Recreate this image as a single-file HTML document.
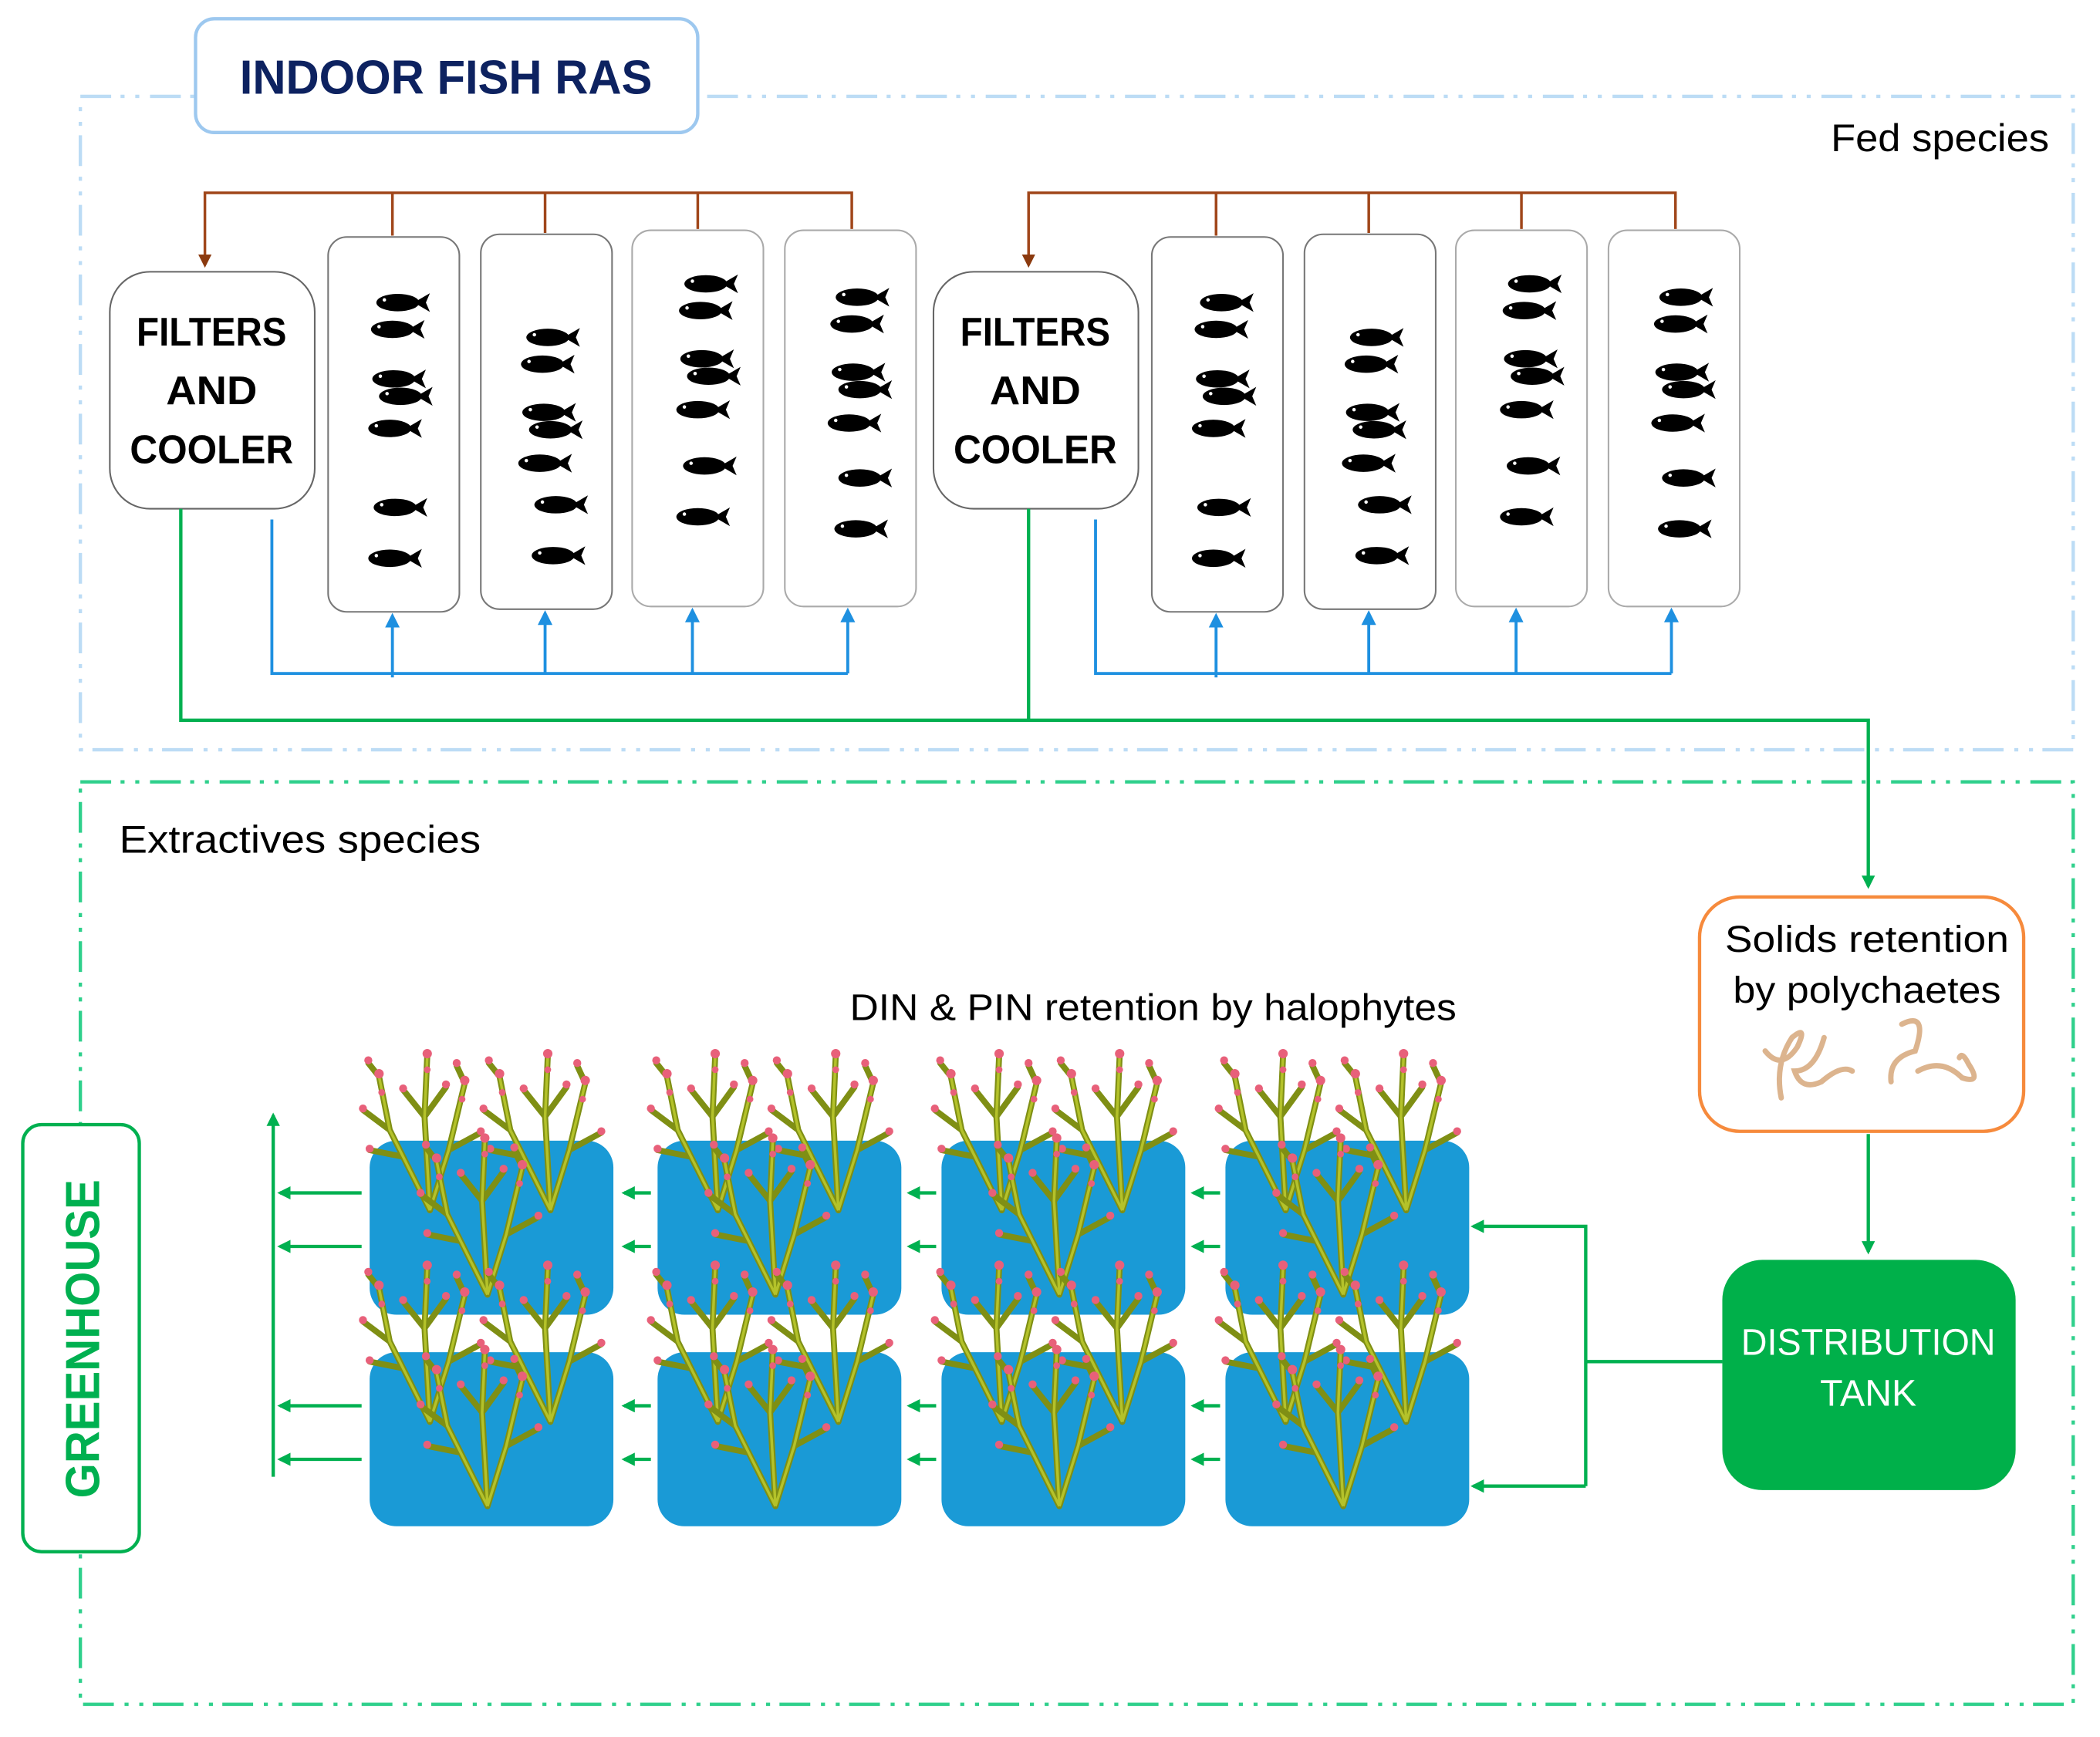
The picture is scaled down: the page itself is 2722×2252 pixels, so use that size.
<!DOCTYPE html>
<html><head><meta charset="utf-8"><style>
html,body{margin:0;padding:0;background:#fff;}
svg{display:block;}
text{font-family:"Liberation Sans",sans-serif;}
</style></head><body>
<svg width="2722" height="2252" viewBox="0 0 1568 1297.4" preserveAspectRatio="none" xmlns="http://www.w3.org/2000/svg">
<defs>
<g id="fish"><ellipse cx="0" cy="0" rx="16" ry="6.5" fill="#000"/><path d="M12,0 L24,-7 L21,0 L24,7 Z" fill="#000"/><circle cx="-10" cy="-2" r="1.3" fill="#fff"/></g>
<marker id="ab" viewBox="0 0 10 10" refX="8" refY="5" markerWidth="5" markerHeight="5" orient="auto"><path d="M0,0 L10,5 L0,10 Z" fill="#8b3a0f"/></marker>
<marker id="abl" viewBox="0 0 10 10" refX="8" refY="5" markerWidth="5" markerHeight="5" orient="auto"><path d="M0,0 L10,5 L0,10 Z" fill="#1e90e0"/></marker>
<marker id="ag" viewBox="0 0 10 10" refX="8" refY="5" markerWidth="4" markerHeight="4" orient="auto"><path d="M0,0 L10,5 L0,10 Z" fill="#00b050"/></marker>
<g id="tree">
 <g stroke="#7f8f14" stroke-width="4.5" fill="none" stroke-linecap="round">
  <path d="M0,0 L-30,-60 L-38,-100 M0,0 L-4,-70 L-2,-115 M0,0 L14,-45 L26,-95 M-20,-40 L-45,-45 M-30,-60 L-50,-75 M-4,-70 L-20,-90 M-4,-70 L12,-92 M14,-45 L38,-58 M26,-95 L20,-108 M-38,-100 L-46,-110"/>
 </g>
 <g stroke="#b4c22a" stroke-width="2" fill="none">
  <path d="M0,0 L-30,-60 L-38,-100 M0,0 L-4,-70 L-2,-115 M0,0 L14,-45 L26,-95"/>
 </g>
 <g fill="#e8607a">
  <circle cx="-38" cy="-102" r="3.5"/><circle cx="-2" cy="-117" r="3.5"/><circle cx="26" cy="-97" r="3.5"/><circle cx="-45" cy="-46" r="3"/><circle cx="-50" cy="-76" r="3"/><circle cx="-20" cy="-91" r="3"/><circle cx="12" cy="-94" r="3"/><circle cx="38" cy="-59" r="3"/><circle cx="20" cy="-110" r="3"/><circle cx="-46" cy="-112" r="3"/><circle cx="-2" cy="-105" r="2.5"/><circle cx="-36" cy="-88" r="2.5"/><circle cx="24" cy="-83" r="2.5"/>
 </g>
</g>
<g id="tankp">
 <rect x="0" y="0" width="182" height="130" rx="20" fill="#1a9ad6"/>
 <use href="#tree" x="45" y="52"/>
 <use href="#tree" x="135" y="52"/>
 <use href="#tree" x="88" y="115"/>
</g>
<g id="group">
 <g stroke="#a0461a" stroke-width="2" fill="none">
  <path d="M636,171 L636,144 L153,144 L153,198" marker-end="url(#ab)"/>
  <path d="M293,144 L293,176 M407,144 L407,174 M521,144 L521,171"/>
 </g>
 <rect x="82" y="203" width="153" height="177" rx="30" fill="#fff" stroke="#666" stroke-width="1.2"/>
 <text x="158" y="258" font-size="30" font-weight="bold" text-anchor="middle" textLength="112" lengthAdjust="spacingAndGlyphs">FILTERS</text>
 <text x="158" y="302" font-size="30" font-weight="bold" text-anchor="middle" textLength="68" lengthAdjust="spacingAndGlyphs">AND</text>
 <text x="158" y="346" font-size="30" font-weight="bold" text-anchor="middle" textLength="122" lengthAdjust="spacingAndGlyphs">COOLER</text>
 <g fill="#fff" stroke="#777" stroke-width="1.2">
  <rect x="245" y="177" width="98" height="280" rx="14"/>
  <rect x="359" y="175" width="98" height="280" rx="14"/>
  <rect x="472" y="172" width="98" height="281" rx="14" stroke="#aaa"/>
  <rect x="586" y="172" width="98" height="281" rx="14" stroke="#aaa"/>
 </g>
 <use href="#fish" x="297" y="226"/><use href="#fish" x="293" y="246"/><use href="#fish" x="294" y="283"/><use href="#fish" x="299" y="296"/><use href="#fish" x="291" y="320"/><use href="#fish" x="295" y="379"/><use href="#fish" x="291" y="417"/>
 <use href="#fish" x="409" y="252"/><use href="#fish" x="405" y="272"/><use href="#fish" x="406" y="308"/><use href="#fish" x="411" y="321"/><use href="#fish" x="403" y="346"/><use href="#fish" x="415" y="377"/><use href="#fish" x="413" y="415"/>
 <use href="#fish" x="527" y="212"/><use href="#fish" x="523" y="232"/><use href="#fish" x="524" y="268"/><use href="#fish" x="529" y="281"/><use href="#fish" x="521" y="306"/><use href="#fish" x="526" y="348"/><use href="#fish" x="521" y="386"/>
 <use href="#fish" x="640" y="222"/><use href="#fish" x="636" y="242"/><use href="#fish" x="637" y="278"/><use href="#fish" x="642" y="291"/><use href="#fish" x="634" y="316"/><use href="#fish" x="642" y="357"/><use href="#fish" x="639" y="395"/>
 <g stroke="#1e90e0" stroke-width="2.2" fill="none">
  <path d="M203,388 L203,503 L633,503"/>
  <path d="M293,506 L293,460" marker-end="url(#abl)"/>
  <path d="M407,503 L407,458" marker-end="url(#abl)"/>
  <path d="M517,503 L517,456" marker-end="url(#abl)"/>
  <path d="M633,503 L633,456" marker-end="url(#abl)"/>
 </g>
</g>
</defs>

<rect x="60" y="72" width="1488" height="488" fill="none" stroke="#bcdcf5" stroke-width="2.5" stroke-dasharray="23,7,3,8,3,8"/>
<rect x="146" y="14" width="375" height="85" rx="14" fill="#fff" stroke="#9dc8ef" stroke-width="2.5"/>
<text x="333" y="70" font-size="36" font-weight="bold" fill="#0d2260" text-anchor="middle" textLength="308" lengthAdjust="spacingAndGlyphs">INDOOR FISH RAS</text>
<text x="1530" y="113" font-size="29" text-anchor="end" textLength="163" lengthAdjust="spacingAndGlyphs">Fed species</text>

<use href="#group"/>
<use href="#group" x="615"/>

<g stroke="#00b050" stroke-width="2.5" fill="none">
 <path d="M135,380 L135,538 L1395,538 L1395,662" marker-end="url(#ag)"/>
 <path d="M768,380 L768,538"/>
</g>

<rect x="60" y="584" width="1488" height="689" fill="none" stroke="#2fd08c" stroke-width="2.5" stroke-dasharray="23,7,3,8,3,8"/>
<text x="89" y="637" font-size="29" textLength="270" lengthAdjust="spacingAndGlyphs">Extractives species</text>

<rect x="1269" y="670" width="242" height="175" rx="30" fill="#fff" stroke="#f68a3c" stroke-width="2.5"/>
<text x="1394" y="711" font-size="28" text-anchor="middle" textLength="212" lengthAdjust="spacingAndGlyphs">Solids retention</text>
<text x="1394" y="749" font-size="28" text-anchor="middle" textLength="200" lengthAdjust="spacingAndGlyphs">by polychaetes</text>
<g fill="none" stroke="#dcb48e" stroke-width="4" stroke-linecap="round">
 <path d="M1318,785 Q1330,800 1342,782 Q1350,765 1338,775 Q1325,795 1330,820"/>
 <path d="M1362,775 Q1355,800 1340,800 Q1345,815 1360,808 Q1375,795 1383,800"/>
 <path d="M1420,765 Q1440,755 1430,785 Q1410,790 1412,808"/>
 <path d="M1432,800 Q1450,790 1465,805 Q1480,810 1470,795 Q1465,785 1463,790"/>
</g>
<path d="M1395,847 L1395,935" stroke="#00b050" stroke-width="2.5" marker-end="url(#ag)"/>

<rect x="1286" y="941" width="219" height="172" rx="30" fill="#00b04a"/>
<text x="1395" y="1012" font-size="28" fill="#fff" text-anchor="middle" textLength="190" lengthAdjust="spacingAndGlyphs">DISTRIBUTION</text>
<text x="1395" y="1050" font-size="28" fill="#fff" text-anchor="middle" textLength="72" lengthAdjust="spacingAndGlyphs">TANK</text>
<g stroke="#00b050" stroke-width="2.5" fill="none">
 <path d="M1286,1017 L1184,1017"/>
 <path d="M1184,1110 L1184,916 L1100,916" marker-end="url(#ag)"/>
 <path d="M1184,1110 L1100,1110" marker-end="url(#ag)"/>
</g>

<text x="861" y="762" font-size="28" text-anchor="middle" textLength="453" lengthAdjust="spacingAndGlyphs">DIN &amp; PIN retention by halophytes</text>

<use href="#tankp" x="276" y="852"/><use href="#tankp" x="491" y="852"/><use href="#tankp" x="703" y="852"/><use href="#tankp" x="915" y="852"/>
<use href="#tankp" x="276" y="1010"/><use href="#tankp" x="491" y="1010"/><use href="#tankp" x="703" y="1010"/><use href="#tankp" x="915" y="1010"/>

<g stroke="#00b050" stroke-width="2.5" fill="none">
 <path d="M486,891 L466,891" marker-end="url(#ag)"/><path d="M486,931 L466,931" marker-end="url(#ag)"/><path d="M486,1050 L466,1050" marker-end="url(#ag)"/><path d="M486,1090 L466,1090" marker-end="url(#ag)"/>
 <path d="M699,891 L679,891" marker-end="url(#ag)"/><path d="M699,931 L679,931" marker-end="url(#ag)"/><path d="M699,1050 L679,1050" marker-end="url(#ag)"/><path d="M699,1090 L679,1090" marker-end="url(#ag)"/>
 <path d="M911,891 L891,891" marker-end="url(#ag)"/><path d="M911,931 L891,931" marker-end="url(#ag)"/><path d="M911,1050 L891,1050" marker-end="url(#ag)"/><path d="M911,1090 L891,1090" marker-end="url(#ag)"/>
 <path d="M270,891 L209,891" marker-end="url(#ag)"/><path d="M270,931 L209,931" marker-end="url(#ag)"/><path d="M270,1050 L209,1050" marker-end="url(#ag)"/><path d="M270,1090 L209,1090" marker-end="url(#ag)"/>
 <path d="M204,1103 L204,833" marker-end="url(#ag)"/>
</g>

<rect x="17" y="840" width="87" height="319" rx="14" fill="#fff" stroke="#00b050" stroke-width="2.5"/>
<text transform="translate(74,1000) rotate(-90)" font-size="36" font-weight="bold" fill="#00b050" text-anchor="middle" textLength="238" lengthAdjust="spacingAndGlyphs">GREENHOUSE</text>
</svg>
</body></html>
